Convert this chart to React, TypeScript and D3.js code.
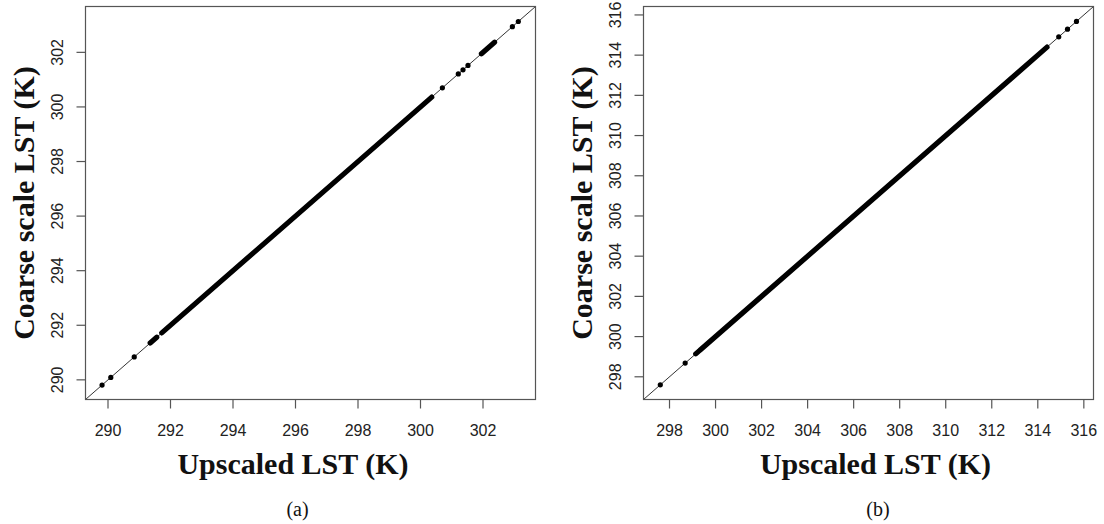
import React from "react";
import * as d3 from "d3";

// ---- Data ----
// Panel (a)
const aDomain = [289.28, 303.68];
const aTicks = [290, 292, 294, 296, 298, 300, 302];
const aPoints = [289.81, 290.09, 290.84, 300.7, 301.21, 301.36, 301.52, 302.94, 303.13];
// continuous runs of overlapping points: [start, end]
const aBands = [
  [291.35, 291.56],
  [291.72, 300.36],
  [301.95, 302.37],
];
// Panel (b)
const bDomain = [296.87, 316.42];
const bTicks = [298, 300, 302, 304, 306, 308, 310, 312, 314, 316];
const bPoints = [297.6, 298.68, 314.91, 315.29, 315.68];
const bBands = [
  [299.14, 299.24],
  [299.32, 314.4],
];

const xTitle = "Upscaled LST (K)";
const yTitle = "Coarse scale LST (K)";
const panelLabels = ["(a)", "(b)"];

const SANS = "'Liberation Sans', Arial, Helvetica, sans-serif";
const SERIF = "'Liberation Serif', 'Times New Roman', Times, serif";

type PanelProps = {
  domain: number[];
  ticks: number[];
  points: number[];
  bands: number[][];
  left: number;
  right: number;
  top: number;
  bottom: number;
  label: string;
  xTitleX: number;
  labelX: number;
};

function Panel(p: PanelProps) {
  const x = d3.scaleLinear().domain(p.domain).range([p.left, p.right]);
  const y = d3.scaleLinear().domain(p.domain).range([p.bottom, p.top]);
  const axisColor = "#555";
  const r = 2.6;
  const line = d3
    .line<number>()
    .x((d) => x(d))
    .y((d) => y(d));
  return (
    <g>
      {/* 1:1 line */}
      <path d={line(p.domain) || ""} stroke="#333" strokeWidth={1} fill="none" />
      {/* dense runs of points */}
      {p.bands.map((b, i) => (
        <path
          key={"b" + i}
          d={line(b) || ""}
          stroke="#000"
          strokeWidth={r * 2}
          strokeLinecap="round"
          fill="none"
        />
      ))}
      {p.points.map((v, i) => (
        <circle key={"p" + i} cx={x(v)} cy={y(v)} r={r} fill="#000" />
      ))}
      {/* box */}
      <rect
        x={p.left}
        y={p.top}
        width={p.right - p.left}
        height={p.bottom - p.top}
        fill="none"
        stroke={axisColor}
        strokeWidth={1.2}
      />
      {/* x ticks */}
      {p.ticks.map((t) => (
        <g key={"x" + t}>
          <line x1={x(t)} x2={x(t)} y1={p.bottom} y2={p.bottom + 9} stroke={axisColor} strokeWidth={1.2} />
          <text x={x(t)} y={436} textAnchor="middle" fontFamily={SANS} fontSize={16} fill="#222">
            {t}
          </text>
        </g>
      ))}
      {/* y ticks */}
      {p.ticks.map((t) => (
        <g key={"y" + t}>
          <line x1={p.left - 9} x2={p.left} y1={y(t)} y2={y(t)} stroke={axisColor} strokeWidth={1.2} />
          <text
            transform={`translate(${p.left - 23},${y(t)}) rotate(-90)`}
            textAnchor="middle"
            fontFamily={SANS}
            fontSize={16}
            fill="#222"
          >
            {t}
          </text>
        </g>
      ))}
      {/* titles */}
      <text x={p.xTitleX} y={474} textAnchor="middle" fontFamily={SERIF} fontWeight="bold" fontSize={30} fill="#111">
        {xTitle}
      </text>
      <text
        transform={`translate(${p.left - 52},${(p.top + p.bottom) / 2}) rotate(-90)`}
        textAnchor="middle"
        fontFamily={SERIF}
        fontWeight="bold"
        fontSize={30}
        fill="#111"
      >
        {yTitle}
      </text>
      <text x={p.labelX} y={515.5} textAnchor="middle" fontFamily={SERIF} fontSize={20} fill="#111">
        {p.label}
      </text>
    </g>
  );
}

export default function App() {
  return (
    <svg
      width={1104}
      height={524}
      viewBox="0 0 1104 524"
      style={{ position: "absolute", left: 0, top: 0, background: "#fff" }}
    >
      <rect x={0} y={0} width={1104} height={524} fill="#fff" />
      <Panel
        domain={aDomain}
        ticks={aTicks}
        points={aPoints}
        bands={aBands}
        left={85.5}
        right={535.5}
        top={6.5}
        bottom={399.5}
        label={panelLabels[0]}
        xTitleX={293}
        labelX={297.5}
      />
      <Panel
        domain={bDomain}
        ticks={bTicks}
        points={bPoints}
        bands={bBands}
        left={643.5}
        right={1093.5}
        top={6.5}
        bottom={399.5}
        label={panelLabels[1]}
        xTitleX={875.5}
        labelX={878}
      />
    </svg>
  );
}
